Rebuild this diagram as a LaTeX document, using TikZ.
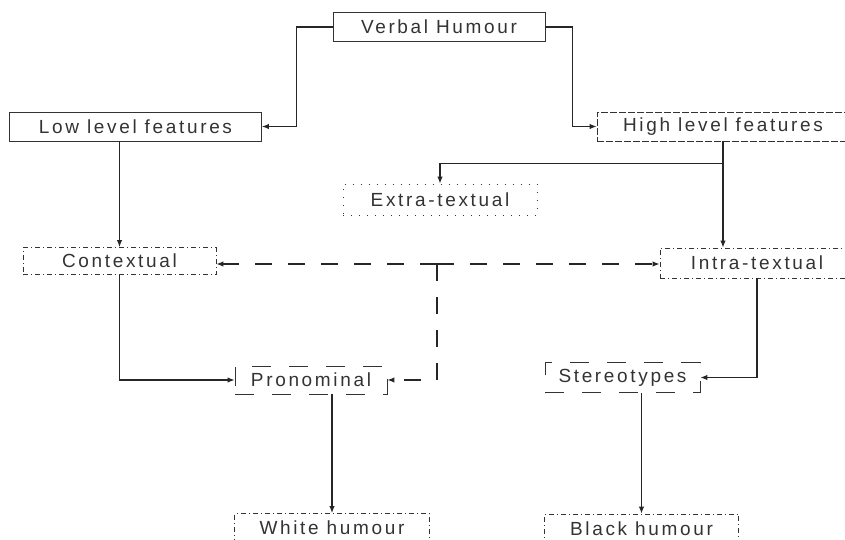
\documentclass[tikz,border=0pt]{standalone}
\usepackage{fontspec}
\setmainfont{Liberation Sans}[LetterSpace=14]
\usepackage{tikz}
\usetikzlibrary{arrows.meta, positioning, calc}
\tikzstyle{arrow} = [line width=1.1pt, draw=black!85, -{Latex[length=7pt,width=5.5pt]}]
\tikzstyle{dasharrow} = [arrow, dash pattern=on 17pt off 16pt]

\begin{document}
\begin{tikzpicture}
	[x=1pt, y=-1pt,
	box/.style={draw=black!80, line width=0.9pt, rectangle, inner sep=0pt, text=black!80,
		font=\fontsize{19}{21}\selectfont, minimum height=29pt},
	solidbox/.style={box},
	dashbox/.style={box, dash pattern=on 7pt off 2pt},
	dotbox/.style={box, dash pattern=on 1pt off 7pt},
	dotdashbox/.style={box, dash pattern=on 5pt off 3pt on 1pt off 3pt},
	longdashbox/.style={box, dash pattern=on 19pt off 18pt}]
	\useasboundingbox (0,0) rectangle (845,540);

	\node[solidbox, minimum width=212pt] (verbal) at (439, 27) {Verbal Humour};
	\node[solidbox, minimum width=252pt] (low) at (135.5, 126.5) {Low level features};
	\node[dashbox, minimum width=252pt] (high) at (723, 126.5) {High level features};
	\node[dotbox, minimum width=194pt, minimum height=31pt] (extra) at (440, 199.5) {Extra-textual};
	\node[dotdashbox, minimum width=193pt, minimum height=27pt] (context) at (119.5, 261) {Contextual};
	\node[dotdashbox, minimum width=194pt, minimum height=30pt] (intra) at (757, 263) {Intra-textual};
	\node[longdashbox, minimum width=152pt, minimum height=28pt] (pronom) at (311, 380) {Pronominal};
	\node[longdashbox, minimum width=155pt, minimum height=30pt] (stereo) at (622.5, 377.5) {Stereotypes};
	\node[dotdashbox, minimum width=195pt] (white) at (332, 528) {White humour};
	\node[dotdashbox, minimum width=194pt] (black) at (641.5, 528.5) {Black humour};

	\coordinate (hsplit) at ($(high.south)+(0,22)$);
	\coordinate (dsplit) at (437, 264);

	\draw[arrow] (verbal.west) -- ++(-36,0) |- (low.east);
	\draw[arrow] (verbal.east) -- ++(27,0) |- (high.west);
	\draw[arrow] (low.south -| context.north) -- (context.north);
	\draw[arrow] (high.south) -- (high.south |- intra.north);
	\draw[arrow] (hsplit) -| (extra.north);
	\draw[dasharrow] (dsplit) -- (dsplit -| context.east);
	\draw[dasharrow] (dsplit) -- (dsplit -| intra.west);
	\draw[dasharrow] (dsplit) |- (pronom.east);
	\draw[arrow] (context.south) |- (pronom.west);
	\draw[arrow] (intra.south) |- (stereo.east);
	\draw[arrow] (pronom.south -| white.north) -- (white.north);
	\draw[arrow] (stereo.south -| black.north) -- (black.north);
\end{tikzpicture}
\end{document}
